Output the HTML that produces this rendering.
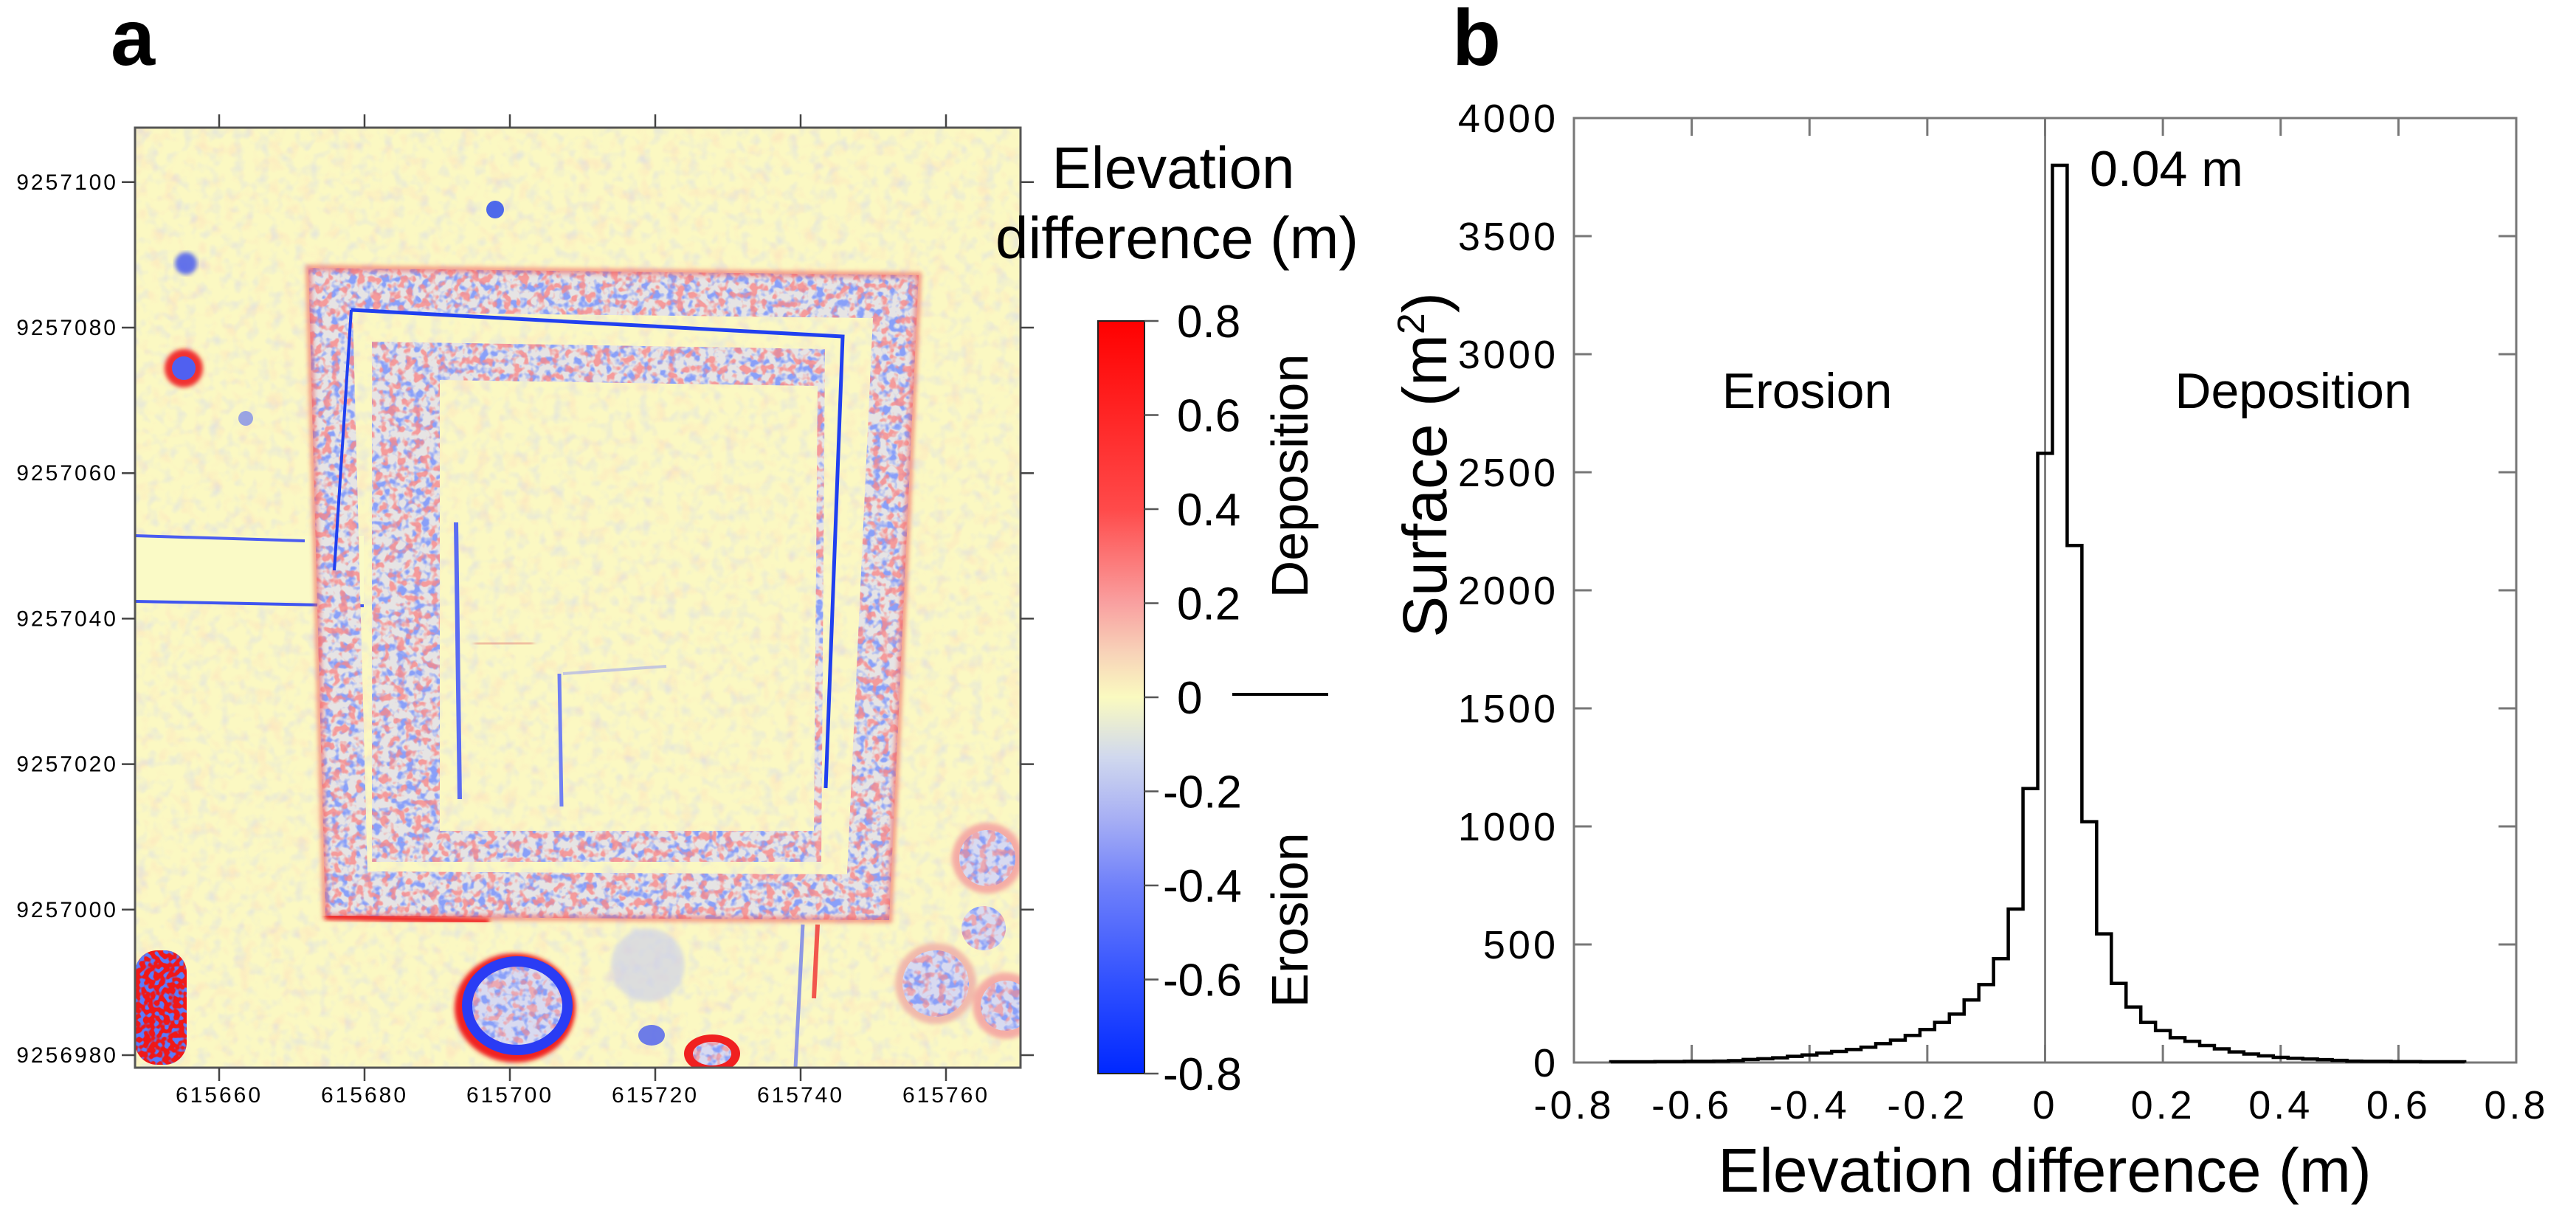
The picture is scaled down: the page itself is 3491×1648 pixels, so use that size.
<!DOCTYPE html>
<html><head><meta charset="utf-8"><style>
html,body{margin:0;padding:0;background:#fff;}
svg{display:block;font-family:"Liberation Sans",Arial,sans-serif;}
</style></head><body>
<svg id="fig" width="3491" height="1648" viewBox="0 0 3491 1648" xmlns="http://www.w3.org/2000/svg">
<defs>
  <linearGradient id="cbar" x1="0" y1="0" x2="0" y2="1">
    <stop offset="0" stop-color="#ff0000"/>
    <stop offset="0.25" stop-color="#ff4a4a"/>
    <stop offset="0.375" stop-color="#f9a0a0"/>
    <stop offset="0.44" stop-color="#f8d2b8"/>
    <stop offset="0.5" stop-color="#fafac0"/>
    <stop offset="0.58" stop-color="#d0d8ee"/>
    <stop offset="0.66" stop-color="#a8b0f4"/>
    <stop offset="0.75" stop-color="#6f80fa"/>
    <stop offset="0.88" stop-color="#3050ff"/>
    <stop offset="1" stop-color="#0028ff"/>
  </linearGradient>
  <filter id="blur3"><feGaussianBlur stdDeviation="3"/></filter>
  <filter id="noise" x="0" y="0" width="100%" height="100%">
    <feTurbulence type="fractalNoise" baseFrequency="0.06" numOctaves="2" seed="4"/>
    <feColorMatrix type="matrix" values="0 0 0 0 0.55  0 0 0 0 0.6  0 0 0 0 1  0 0 0 -2.2 1.15"/>
  </filter>
  <filter id="noiseR" x="0" y="0" width="100%" height="100%">
    <feTurbulence type="fractalNoise" baseFrequency="0.05" numOctaves="2" seed="9"/>
    <feColorMatrix type="matrix" values="0 0 0 0 1  0 0 0 0 0.55  0 0 0 0 0.5  0 0 0 -2.4 1.2"/>
  </filter>
  <filter id="speckB" x="0" y="0" width="100%" height="100%">
    <feTurbulence type="fractalNoise" baseFrequency="0.09" numOctaves="2" seed="2"/>
    <feColorMatrix type="matrix" values="0 0 0 0 0.25  0 0 0 0 0.35  0 0 0 0 0.95  0 0 0 -5 2.6"/>
  </filter>
  <filter id="speckR" x="0" y="0" width="100%" height="100%">
    <feTurbulence type="fractalNoise" baseFrequency="0.09" numOctaves="2" seed="7"/>
    <feColorMatrix type="matrix" values="0 0 0 0 0.95  0 0 0 0 0.25  0 0 0 0 0.25  0 0 0 -6 3.0"/>
  </filter>
  <filter id="speckStrong" x="0" y="0" width="100%" height="100%">
    <feTurbulence type="fractalNoise" baseFrequency="0.15" numOctaves="1" seed="5"/>
    <feColorMatrix type="matrix" values="0 0 0 0 0.1  0 0 0 0 0.2  0 0 0 0 1  0 0 0 -9 4.5"/>
  </filter>
  <clipPath id="mapclip"><rect x="0" y="0" width="1200" height="1274"/></clipPath>
  <clipPath id="bandclip">
    <path d="M235,190 L1062,200 L1022,1074 L258,1069 Z M295,250 L1000,258 L965,1012 L315,1008 Z" clip-rule="evenodd"/>
    <path d="M321,290 L935,300 L930,995 L321,995 Z M413,342 L925,350 L920,953 L413,953 Z" clip-rule="evenodd"/>
  </clipPath>
  <clipPath id="blobclip">
    <ellipse cx="518" cy="1190" rx="68" ry="60"/>
    <ellipse cx="782" cy="1255" rx="26" ry="16"/>
    <circle cx="1155" cy="990" r="38"/>
    <circle cx="1180" cy="1190" r="34"/>
    <circle cx="1085" cy="1160" r="45"/>
    <circle cx="1150" cy="1085" r="30"/>
  </clipPath>
  <clipPath id="blclip"><rect x="0" y="1115" width="70" height="155" rx="30"/></clipPath>
</defs>

<text x="150" y="88" font-size="108" font-weight="bold">a</text>
<text x="1968" y="88" font-size="108" font-weight="bold">b</text>

<!-- MAP -->
<g transform="translate(183,173)">
 <g clip-path="url(#mapclip)">
  <rect x="0" y="0" width="1200" height="1274" fill="#fbf8c2"/>
  <rect x="0" y="0" width="1200" height="1274" filter="url(#noiseR)" opacity="0.3"/>
  <rect x="0" y="0" width="1200" height="1274" filter="url(#noise)" opacity="0.4"/>
  <rect x="0" y="553" width="310" height="89" fill="#fafac6"/>
  <line x1="0" y1="553" x2="230" y2="560" stroke="#4a5cf0" stroke-width="4"/>
  <line x1="0" y1="642" x2="310" y2="648" stroke="#3f55f0" stroke-width="4"/>
  <g clip-path="url(#bandclip)">
   <rect x="0" y="0" width="1200" height="1274" fill="#e6e4e4"/>
   <rect x="0" y="0" width="1200" height="1274" filter="url(#speckB)"/>
   <rect x="0" y="0" width="1200" height="1274" filter="url(#speckR)" opacity="0.8"/>
  </g>
  <path d="M235,190 L1062,200 L1022,1074 L258,1069 Z" fill="none" stroke="#f06060" stroke-width="8" opacity="0.6" filter="url(#blur3)"/>
  <path d="M258,1069 L480,1076" stroke="#f02020" stroke-width="8" filter="url(#blur3)"/>
  <path d="M293,247 L959,283 L936,895" fill="none" stroke="#2040f0" stroke-width="5"/>
  <path d="M293,247 L270,600" fill="none" stroke="#2040f0" stroke-width="4"/>
  <line x1="435" y1="535" x2="440" y2="910" stroke="#5a6cf2" stroke-width="6"/>
  <line x1="575" y1="740" x2="578" y2="920" stroke="#7080f2" stroke-width="5"/>
  <line x1="580" y1="740" x2="720" y2="730" stroke="#a0a8f0" stroke-width="4" opacity="0.6"/>
  <line x1="480" y1="560" x2="560" y2="560" stroke="#e07070" stroke-width="6" opacity="0.6" filter="url(#blur3)"/>
  <line x1="460" y1="700" x2="540" y2="698" stroke="#e07070" stroke-width="6" opacity="0.6" filter="url(#blur3)"/>
  <circle cx="69" cy="184" r="15" fill="#4a5cf0" opacity="0.85" filter="url(#blur3)"/>
  <circle cx="66" cy="326" r="26" fill="#f03030" filter="url(#blur3)"/>
  <circle cx="66" cy="326" r="16" fill="#5060f0"/>
  <circle cx="488" cy="111" r="12" fill="#3050f0" opacity="0.85"/>
  <circle cx="150" cy="394" r="10" fill="#7080f0" opacity="0.7"/>
  <g clip-path="url(#blclip)">
   <rect x="0" y="1115" width="70" height="155" fill="#f01818"/>
   <rect x="0" y="1115" width="70" height="155" filter="url(#speckStrong)"/>
  </g>
  <ellipse cx="515" cy="1193" rx="82" ry="74" fill="#f02020" filter="url(#blur3)"/>
  <ellipse cx="782" cy="1255" rx="38" ry="26" fill="#f02020"/>
  <g opacity="0.85" filter="url(#blur3)">
   <circle cx="1155" cy="990" r="48" fill="#f4a0a0"/>
   <circle cx="1180" cy="1190" r="45" fill="#f4a0a0"/>
   <circle cx="1085" cy="1160" r="55" fill="#f0b0a8"/>
  </g>
  <g clip-path="url(#blobclip)">
   <rect x="0" y="900" width="1200" height="374" fill="#d8daf0"/>
   <rect x="0" y="900" width="1200" height="374" filter="url(#speckB)"/>
   <rect x="0" y="900" width="1200" height="374" filter="url(#speckR)" opacity="0.6"/>
  </g>
  <ellipse cx="518" cy="1190" rx="68" ry="60" fill="none" stroke="#2a3cf4" stroke-width="14"/>
  <circle cx="695" cy="1135" r="50" fill="#c8ccf0" opacity="0.6" filter="url(#blur3)"/>
  <ellipse cx="700" cy="1230" rx="18" ry="14" fill="#4a5cf0" opacity="0.8"/>
  <line x1="905" y1="1080" x2="895" y2="1274" stroke="#6070f0" stroke-width="5" opacity="0.7"/>
  <line x1="925" y1="1080" x2="920" y2="1180" stroke="#f03030" stroke-width="6" opacity="0.8"/>
 </g>
 <rect x="0" y="0" width="1200" height="1274" fill="none" stroke="#555" stroke-width="3"/>
</g>
<g id="mapAxes"></g>

<g>
 <rect x="1488" y="435" width="63" height="1020" fill="url(#cbar)" stroke="#222" stroke-width="2"/>
</g>
<g id="cbarTicks"></g>
<text x="1590" y="255" font-size="80" text-anchor="middle">Elevation</text>
<text x="1595" y="350" font-size="80" text-anchor="middle">difference (m)</text>
<text transform="translate(1772,645) rotate(-90)" font-size="70" text-anchor="middle">Deposition</text>
<text transform="translate(1772,1247) rotate(-90)" font-size="70" text-anchor="middle">Erosion</text>
<line x1="1670" y1="941" x2="1800" y2="941" stroke="#000" stroke-width="4"/>

<g id="hist"></g>
<text transform="translate(1960,630) rotate(-90)" font-size="84" text-anchor="middle">Surface (m<tspan font-size="52" dy="-30">2</tspan><tspan dy="30">)</tspan></text>

<script>
const binCenters = [-0.725,-0.7,-0.675,-0.65,-0.625,-0.6,-0.575,-0.55,-0.525,-0.5,-0.475,-0.45,-0.425,-0.4,-0.375,-0.35,-0.325,-0.3,-0.275,-0.25,-0.225,-0.2,-0.175,-0.15,-0.125,-0.1,-0.075,-0.05,-0.025,0,
 0.025,0.05,0.075,0.1,0.125,0.15,0.175,0.2,0.225,0.25,0.275,0.3,0.325,0.35,0.375,0.4,0.425,0.45,0.475,0.5,0.525,0.55,0.575,0.6,0.625,0.65,0.675,0.7];
const surfaceValues = [3,3,3,4,4,5,5,6,8,13,16,20,26,32,40,47,55,65,80,95,115,140,170,205,265,330,440,650,1160,2580,
 3800,2190,1020,545,335,235,170,135,105,90,72,58,45,36,28,22,18,15,12,9,6,5,5,4,4,3,3,3];
const binWidth = 0.025;
const xTicks = [-0.8,-0.6,-0.4,-0.2,0,0.2,0.4,0.6,0.8];
const xTickLabels = ["-0.8","-0.6","-0.4","-0.2","0","0.2","0.4","0.6","0.8"];
const yTicks = [0,500,1000,1500,2000,2500,3000,3500,4000];
const yTickLabels = ["0","500","1000","1500","2000","2500","3000","3500","4000"];
const mapXTicks = [615660,615680,615700,615720,615740,615760];
const mapYTicks = [9256980,9257000,9257020,9257040,9257060,9257080,9257100];
const cbarTicks = [0.8,0.6,0.4,0.2,0,-0.2,-0.4,-0.6,-0.8];
const cbarTickLabels = ["0.8","0.6","0.4","0.2","0","-0.2","-0.4","-0.6","-0.8"];

const NS = "http://www.w3.org/2000/svg";
function mk(tag, attrs, parent){const e=document.createElementNS(NS,tag);for(const k in attrs)e.setAttribute(k,attrs[k]);parent.appendChild(e);return e;}

const L=2133,R=3410,T=160,B=1440;
const X=v=>L+(v+0.8)/1.6*(R-L);
const Y=v=>B-v/4000*(B-T);
const h=document.getElementById('hist');
const frame=mk('rect',{x:L,y:T,width:R-L,height:B-T,fill:'none',stroke:'#777','stroke-width':3},h);


const zl=mk('line',{x1:X(0),y1:T,x2:X(0),y2:B,stroke:'#666','stroke-width':2.5},h);


xTicks.forEach((t,i)=>{
  const x=X(t);
  mk('line',{x1:x,y1:B,x2:x,y2:B-24,stroke:'#777','stroke-width':3},h);
  mk('line',{x1:x,y1:T,x2:x,y2:T+24,stroke:'#777','stroke-width':3},h);
  const tx=mk('text',{x:x,y:1516,'font-size':54,'text-anchor':'middle','letter-spacing':4},h);
  tx.textContent=xTickLabels[i];
  
  
});
yTicks.forEach((t,i)=>{
  const y=Y(t);
  mk('line',{x1:L,y1:y,x2:L+24,y2:y,stroke:'#777','stroke-width':3},h);
  mk('line',{x1:R,y1:y,x2:R-24,y2:y,stroke:'#777','stroke-width':3},h);
  const tx=mk('text',{x:2112,y:y+19,'font-size':54,'text-anchor':'end','letter-spacing':4},h);
  tx.textContent=yTickLabels[i];
  
  
});
let d='';
binCenters.forEach((c,i)=>{
  const x0=X(c-binWidth/2),x1=X(c+binWidth/2),y=Y(surfaceValues[i]);
  d+=(i===0?'M'+x0+','+Y(0)+' L'+x0+','+y:' L'+x0+','+y)+' L'+x1+','+y;
});
const last=binCenters[binCenters.length-1]+binWidth/2;
d+=' L'+X(last)+','+Y(0);
const p=mk('path',{d:d,fill:'none',stroke:'#000','stroke-width':4.5},h);


const t1=mk('text',{x:2449,y:553,'font-size':68,'text-anchor':'middle'},h);t1.textContent='Erosion';


const t2=mk('text',{x:3108,y:553,'font-size':68,'text-anchor':'middle'},h);t2.textContent='Deposition';


const t3=mk('text',{x:2832,y:252,'font-size':68},h);t3.textContent='0.04 m';


const xt=mk('text',{x:2771,y:1615,'font-size':84,'text-anchor':'middle'},h);xt.textContent='Elevation difference (m)';



const mL=183,mR=1383,mT=173,mB=1447;
const MX=v=>297+(v-615660)/20*197;
const MY=v=>1430-(v-9256980)*9.86;
const ma=document.getElementById('mapAxes');
mapXTicks.forEach(t=>{
  const x=MX(t);
  mk('line',{x1:x,y1:mB,x2:x,y2:mB+18,stroke:'#444','stroke-width':2.5},ma);
  mk('line',{x1:x,y1:mT,x2:x,y2:mT-18,stroke:'#444','stroke-width':2.5},ma);
  const tx=mk('text',{x:x,y:1494,'font-size':30,'text-anchor':'middle','letter-spacing':3},ma);
  tx.textContent=String(t);
  
  
});
mapYTicks.forEach(t=>{
  const y=MY(t);
  mk('line',{x1:mL,y1:y,x2:mL-18,y2:y,stroke:'#444','stroke-width':2.5},ma);
  mk('line',{x1:mR,y1:y,x2:mR+18,y2:y,stroke:'#444','stroke-width':2.5},ma);
  const tx=mk('text',{x:160,y:y+10,'font-size':30,'text-anchor':'end','letter-spacing':3},ma);
  tx.textContent=String(t);
  
  
});

const CY=v=>435+(0.8-v)/1.6*1020;
const cb=document.getElementById('cbarTicks');
cbarTicks.forEach((t,i)=>{
  const y=CY(t);
  mk('line',{x1:1551,y1:y,x2:1570,y2:y,stroke:'#555','stroke-width':2.5},cb);
  const tx=mk('text',{x:t<0?1576:1595,y:y+22,'font-size':62},cb);
  tx.textContent=cbarTickLabels[i];
  
  
});
</script>
</svg>
</body></html>
